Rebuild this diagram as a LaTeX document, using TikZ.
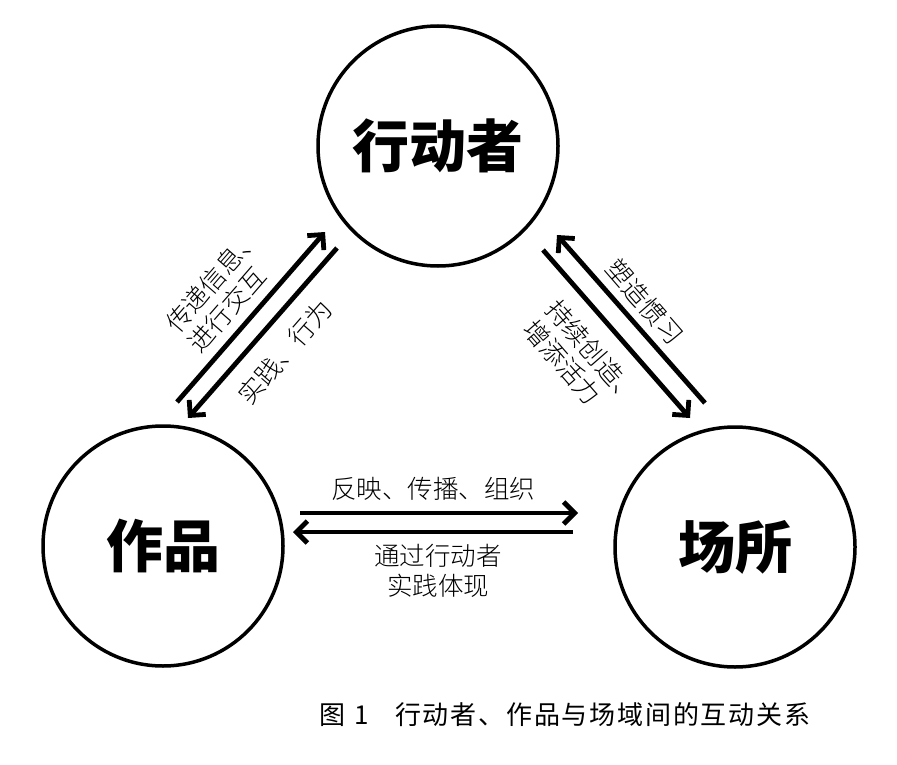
\documentclass[tikz,border=0pt]{standalone}
\usepackage{fontspec}
\newfontfamily\cjk{Noto Sans CJK SC}
\newfontfamily\cjkl{Noto Sans CJK SC Light}
\usetikzlibrary{arrows.meta}
\begin{document}
\begin{tikzpicture}[x=1pt,y=-1pt,
  circ/.style={circle,draw,line width=3.5pt,minimum size=240pt,inner sep=0pt,
    font=\cjk\bfseries\fontsize{57}{60}\selectfont},
  arr/.style={line width=4.8pt,-{Straight Barb[length=11pt,width=22pt,line width=4.8pt]}},
  lab/.style={font=\cjkl\fontsize{25.5}{30}\selectfont,inner sep=0pt,align=center},
  captxt/.style={font=\cjk\fontsize{26}{30}\selectfont,inner sep=0pt,anchor=west}]
\useasboundingbox (0,0) rectangle (897,765);
\fill[white] (0,0) rectangle (897,765);
% circles
\node[circ] (actor) at (438,146) {行动者};
\node[circ] (work) at (163,546) {作品};
\node[circ] (place) at (735,547) {场所};
% arrow end points
\coordinate (l1s) at (177,402); \coordinate (l1e) at (325,232);
\coordinate (l2s) at (337,248); \coordinate (l2e) at (188,418);
\coordinate (r1s) at (705,403); \coordinate (r1e) at (557,235);
\coordinate (r2s) at (543,250); \coordinate (r2e) at (690,418);
\coordinate (h1s) at (300,513); \coordinate (h1e) at (578,513);
\coordinate (h2s) at (573,532); \coordinate (h2e) at (293,532);
\draw[arr] (l1s) -- (l1e);
\draw[arr] (l2s) -- (l2e);
\draw[arr] (r1s) -- (r1e);
\draw[arr] (r2s) -- (r2e);
\draw[arr] (h1s) -- (h1e);
\draw[arr] (h2s) -- (h2e);
% labels
\node[lab,rotate=49,align=left] (t1) at (224,290) {传递信息、\\进行交互};
\node[lab,rotate=49] (t2) at (285,352) {实践、行为};
\node[lab,rotate=-49] (t3) at (645,302) {塑造惯习};
\node[lab,rotate=-49,align=left] (t4) at (582,362) {持续创造、\\增添活力};
\node[lab] (t5) at (433,489) {反映、传播、组织};
\node[lab] (t6) at (438,571) {通过行动者\\实践体现};
% caption
\node[captxt] (fig) at (319,715) {图\hspace{9pt}1};
\node[captxt] (captext) at (395,715) {\hbox to 415pt{行\hfil 动\hfil 者\hfil 、\hfil 作\hfil 品\hfil 与\hfil 场\hfil 域\hfil 间\hfil 的\hfil 互\hfil 动\hfil 关\hfil 系}};
\end{tikzpicture}
\end{document}
